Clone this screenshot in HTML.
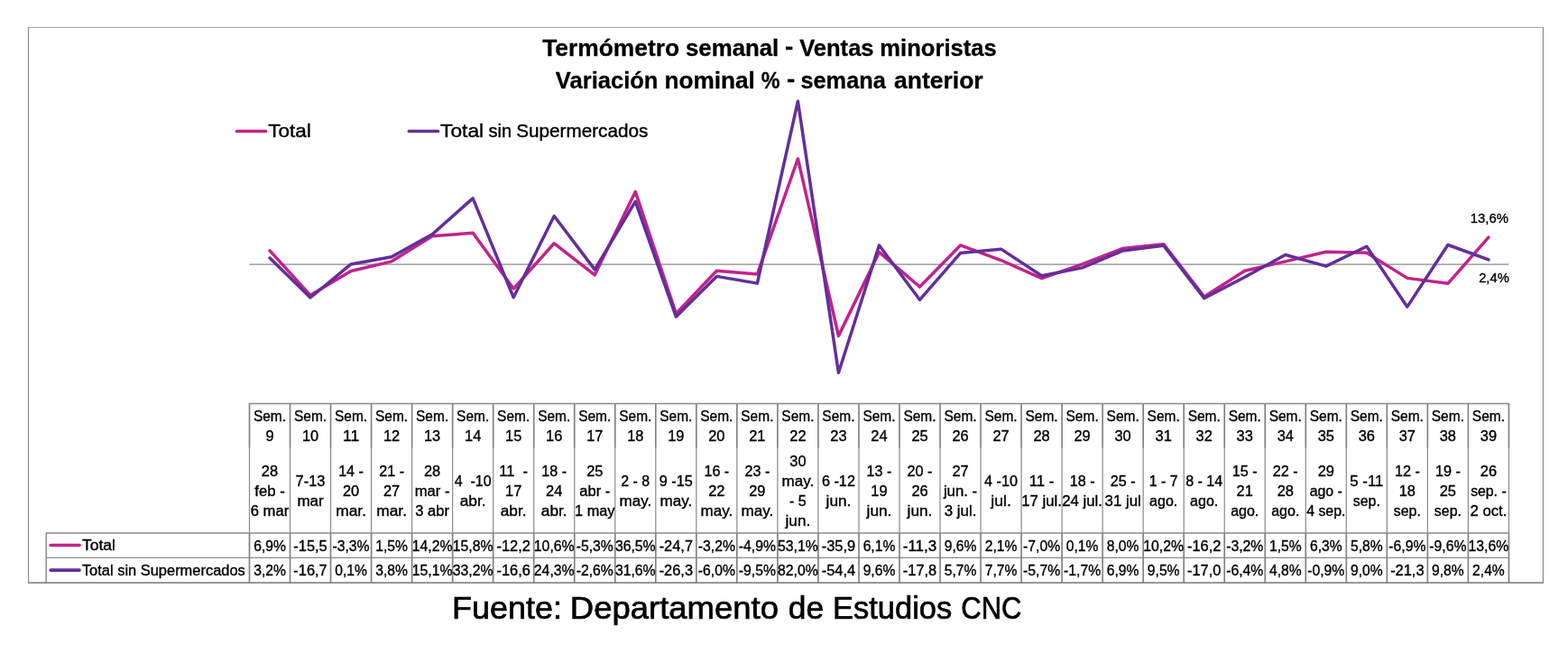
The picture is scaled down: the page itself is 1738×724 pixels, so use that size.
<!DOCTYPE html>
<html lang="es">
<head>
<meta charset="utf-8">
<title>Termómetro semanal - Ventas minoristas</title>
<style>
html,body{margin:0;padding:0;background:#fff;}
body{width:1738px;height:724px;overflow:hidden;font-family:"Liberation Sans",Arial,sans-serif;}
svg{display:block;}
text{white-space:pre;}
</style>
</head>
<body>
<svg width="1738" height="724" viewBox="0 0 1738 724">
<rect x="0" y="0" width="1738" height="724" fill="#fff"/>
<path d="M31.5 30.1V646.1" fill="none" stroke="#858585" stroke-width="1.05"/>
<path d="M31 30.5H1711" fill="none" stroke="#8A8A8A" stroke-width="0.8"/>
<path d="M1710.4 30.1V646.1" fill="none" stroke="#8A8A8A" stroke-width="1.2"/>
<path d="M31 646.1H1711" fill="none" stroke="#8A8A8A" stroke-width="1.7"/>
<line x1="276.50" y1="293.15" x2="1672.43" y2="293.15" stroke="#8A8A8A" stroke-width="1.3"/>
<polyline points="299.01,277.92 344.05,327.36 389.07,300.43 434.11,289.84 479.13,261.81 524.16,258.28 569.19,320.08 614.23,269.76 659.25,304.85 704.29,212.59 749.32,347.66 794.35,300.21 839.38,303.96 884.40,175.96 929.44,372.38 974.47,279.69 1019.50,318.09 1064.53,271.96 1109.56,288.52 1154.59,308.60 1199.62,292.93 1244.64,275.49 1289.68,270.64 1334.70,328.90 1379.74,300.21 1424.77,289.84 1469.80,279.25 1514.83,280.35 1559.86,308.38 1604.88,314.34 1649.91,263.13" fill="none" stroke="#C3228D" stroke-width="3.5" stroke-linejoin="round" stroke-linecap="round"/>
<polyline points="299.01,286.09 344.05,330.01 389.07,292.93 434.11,284.76 479.13,259.82 524.16,219.88 569.19,329.79 614.23,239.52 659.25,298.89 704.29,223.41 749.32,351.19 794.35,306.39 839.38,314.12 884.40,112.18 929.44,413.21 974.47,271.96 1019.50,332.43 1064.53,280.57 1109.56,276.16 1154.59,305.73 1199.62,296.90 1244.64,277.92 1289.68,272.18 1334.70,330.67 1379.74,307.27 1424.77,282.56 1469.80,295.14 1514.83,273.29 1559.86,340.16 1604.88,271.52 1649.91,287.85" fill="none" stroke="#642E9A" stroke-width="3.5" stroke-linejoin="round" stroke-linecap="round"/>
<path d="M276.50 496.80V591.00M321.53 496.80V591.00M366.56 496.80V591.00M411.59 496.80V591.00M456.62 496.80V591.00M501.65 496.80V591.00M546.68 496.80V591.00M591.71 496.80V591.00M636.74 496.80V591.00M681.77 496.80V591.00M726.80 496.80V591.00M771.83 496.80V591.00M816.86 496.80V591.00M861.89 496.80V591.00M906.92 496.80V591.00M951.95 496.80V591.00M996.98 496.80V591.00M1042.01 496.80V591.00M1087.04 496.80V591.00M1132.07 496.80V591.00M1177.10 496.80V591.00M1222.13 496.80V591.00M1267.16 496.80V591.00M1312.19 496.80V591.00M1357.22 496.80V591.00M1402.25 496.80V591.00M1447.28 496.80V591.00M1492.31 496.80V591.00M1537.34 496.80V591.00M1582.37 496.80V591.00M1627.40 496.80V591.00M1672.43 496.80V591.00" fill="none" stroke="#8A8A8A" stroke-width="1.2"/>
<path d="M276.50 446.90V496.80M276.50 591.00V646.10M321.53 446.90V496.80M321.53 591.00V646.10M366.56 446.90V496.80M366.56 591.00V646.10M411.59 446.90V496.80M411.59 591.00V646.10M456.62 446.90V496.80M456.62 591.00V646.10M501.65 446.90V496.80M501.65 591.00V646.10M546.68 446.90V496.80M546.68 591.00V646.10M591.71 446.90V496.80M591.71 591.00V646.10M636.74 446.90V496.80M636.74 591.00V646.10M681.77 446.90V496.80M681.77 591.00V646.10M726.80 446.90V496.80M726.80 591.00V646.10M771.83 446.90V496.80M771.83 591.00V646.10M816.86 446.90V496.80M816.86 591.00V646.10M861.89 446.90V496.80M861.89 591.00V646.10M906.92 446.90V496.80M906.92 591.00V646.10M951.95 446.90V496.80M951.95 591.00V646.10M996.98 446.90V496.80M996.98 591.00V646.10M1042.01 446.90V496.80M1042.01 591.00V646.10M1087.04 446.90V496.80M1087.04 591.00V646.10M1132.07 446.90V496.80M1132.07 591.00V646.10M1177.10 446.90V496.80M1177.10 591.00V646.10M1222.13 446.90V496.80M1222.13 591.00V646.10M1267.16 446.90V496.80M1267.16 591.00V646.10M1312.19 446.90V496.80M1312.19 591.00V646.10M1357.22 446.90V496.80M1357.22 591.00V646.10M1402.25 446.90V496.80M1402.25 591.00V646.10M1447.28 446.90V496.80M1447.28 591.00V646.10M1492.31 446.90V496.80M1492.31 591.00V646.10M1537.34 446.90V496.80M1537.34 591.00V646.10M1582.37 446.90V496.80M1582.37 591.00V646.10M1627.40 446.90V496.80M1627.40 591.00V646.10M1672.43 446.90V496.80M1672.43 591.00V646.10" fill="none" stroke="#808080" stroke-width="1.65"/>
<path d="M275.90 447.50H1673.03M50.5 591.00H1673.03M50.5 618.35H1673.03M51.2 591.00V646.10" fill="none" stroke="#8A8A8A" stroke-width="1.45"/>
<line x1="56.2" y1="604.5" x2="88.0" y2="604.5" stroke="#C3228D" stroke-width="3.7" stroke-linecap="round"/>
<line x1="56.2" y1="632.1" x2="88.0" y2="632.1" stroke="#642E9A" stroke-width="3.7" stroke-linecap="round"/>
<line x1="262.6" y1="145.5" x2="294.4" y2="145.5" stroke="#C3228D" stroke-width="3.7" stroke-linecap="round"/>
<line x1="453.4" y1="145.5" x2="485.4" y2="145.5" stroke="#642E9A" stroke-width="3.7" stroke-linecap="round"/>
<g font-family="'Liberation Sans', Arial, sans-serif" fill="#000" stroke="#000" stroke-width="0.35">
<text x="601.15" y="61.80" font-size="26.00" stroke-width="0.3" font-weight="bold" textLength="151.96" lengthAdjust="spacingAndGlyphs">Termómetro</text>
<text x="760.04" y="61.80" font-size="26.00" stroke-width="0.3" font-weight="bold" textLength="103.23" lengthAdjust="spacingAndGlyphs">semanal</text>
<text x="870.08" y="59.90" font-size="26.00" stroke-width="0.3" font-weight="bold" textLength="9.28" lengthAdjust="spacingAndGlyphs">-</text>
<text x="886.15" y="61.80" font-size="26.00" stroke-width="0.3" font-weight="bold" textLength="82.44" lengthAdjust="spacingAndGlyphs">Ventas</text>
<text x="975.35" y="61.80" font-size="26.00" stroke-width="0.3" font-weight="bold" textLength="129.33" lengthAdjust="spacingAndGlyphs">minoristas</text>
<text x="615.85" y="97.65" font-size="26.00" stroke-width="0.3" font-weight="bold" textLength="113.64" lengthAdjust="spacingAndGlyphs">Variación</text>
<text x="736.41" y="97.65" font-size="26.00" stroke-width="0.3" font-weight="bold" textLength="100.49" lengthAdjust="spacingAndGlyphs">nominal</text>
<text x="843.68" y="97.65" font-size="26.00" stroke-width="0.3" font-weight="bold" textLength="20.80" lengthAdjust="spacingAndGlyphs">%</text>
<text x="871.98" y="95.75" font-size="26.00" stroke-width="0.3" font-weight="bold" textLength="9.28" lengthAdjust="spacingAndGlyphs">-</text>
<text x="887.46" y="97.65" font-size="26.00" stroke-width="0.3" font-weight="bold" textLength="94.33" lengthAdjust="spacingAndGlyphs">semana</text>
<text x="991.04" y="97.65" font-size="26.00" stroke-width="0.3" font-weight="bold" textLength="98.59" lengthAdjust="spacingAndGlyphs">anterior</text>
<text x="297.37" y="151.70" font-size="20.70" stroke-width="0.4" textLength="47.44" lengthAdjust="spacingAndGlyphs">Total</text>
<text x="488.06" y="151.70" font-size="20.70" stroke-width="0.4" textLength="48.07" lengthAdjust="spacingAndGlyphs">Total</text>
<text x="541.52" y="151.70" font-size="20.70" stroke-width="0.4" textLength="25.55" lengthAdjust="spacingAndGlyphs">sin</text>
<text x="572.20" y="151.70" font-size="20.70" stroke-width="0.4" textLength="146.15" lengthAdjust="spacingAndGlyphs">Supermercados</text>
<text x="501.14" y="685.80" font-size="35.00" stroke-width="0.7" textLength="121.96" lengthAdjust="spacingAndGlyphs">Fuente:</text>
<text x="631.80" y="685.80" font-size="35.00" stroke-width="0.7" textLength="231.13" lengthAdjust="spacingAndGlyphs">Departamento</text>
<text x="873.84" y="685.80" font-size="35.00" stroke-width="0.7" textLength="39.34" lengthAdjust="spacingAndGlyphs">de</text>
<text x="923.06" y="685.80" font-size="35.00" stroke-width="0.7" textLength="132.17" lengthAdjust="spacingAndGlyphs">Estudios</text>
<text x="1065.19" y="685.80" font-size="35.00" stroke-width="0.7" textLength="67.33" lengthAdjust="spacingAndGlyphs">CNC</text>
<text x="1672.00" y="247.10" font-size="14.96" text-anchor="end" textLength="42.26" lengthAdjust="spacingAndGlyphs">13,6%</text>
<text x="1672.80" y="313.30" font-size="14.96" text-anchor="end" textLength="33.64" lengthAdjust="spacingAndGlyphs">2,4%</text>
<text x="299.01" y="466.50" font-size="15.84" text-anchor="middle" textLength="36.14" lengthAdjust="spacingAndGlyphs">Sem.</text>
<text x="299.01" y="488.80" font-size="15.84" text-anchor="middle" textLength="9.13" lengthAdjust="spacingAndGlyphs">9</text>
<text x="299.01" y="528.20" font-size="15.84" text-anchor="middle" textLength="18.25" lengthAdjust="spacingAndGlyphs">28</text>
<text x="299.01" y="550.00" font-size="15.84" text-anchor="middle" textLength="33.48" lengthAdjust="spacingAndGlyphs">feb -</text>
<text x="299.01" y="571.80" font-size="15.84" text-anchor="middle" textLength="42.48" lengthAdjust="spacingAndGlyphs">6 mar</text>
<text x="299.01" y="610.60" font-size="15.84" text-anchor="middle" textLength="35.62" lengthAdjust="spacingAndGlyphs">6,9%</text>
<text x="299.01" y="637.80" font-size="15.84" text-anchor="middle" textLength="35.62" lengthAdjust="spacingAndGlyphs">3,2%</text>
<text x="344.05" y="466.50" font-size="15.84" text-anchor="middle" textLength="36.14" lengthAdjust="spacingAndGlyphs">Sem.</text>
<text x="344.05" y="488.80" font-size="15.84" text-anchor="middle" textLength="18.25" lengthAdjust="spacingAndGlyphs">10</text>
<text x="344.05" y="539.10" font-size="15.84" text-anchor="middle" textLength="32.89" lengthAdjust="spacingAndGlyphs">7-13</text>
<text x="344.05" y="560.90" font-size="15.84" text-anchor="middle" textLength="29.29" lengthAdjust="spacingAndGlyphs">mar</text>
<text x="344.05" y="610.60" font-size="15.84" text-anchor="middle" textLength="37.39" lengthAdjust="spacingAndGlyphs">-15,5</text>
<text x="344.05" y="637.80" font-size="15.84" text-anchor="middle" textLength="37.39" lengthAdjust="spacingAndGlyphs">-16,7</text>
<text x="389.07" y="466.50" font-size="15.84" text-anchor="middle" textLength="36.14" lengthAdjust="spacingAndGlyphs">Sem.</text>
<text x="389.07" y="488.80" font-size="15.84" text-anchor="middle" textLength="18.25" lengthAdjust="spacingAndGlyphs">11</text>
<text x="389.07" y="528.20" font-size="15.84" text-anchor="middle" textLength="27.83" lengthAdjust="spacingAndGlyphs">14 -</text>
<text x="389.07" y="550.00" font-size="15.84" text-anchor="middle" textLength="18.25" lengthAdjust="spacingAndGlyphs">20</text>
<text x="389.07" y="571.80" font-size="15.84" text-anchor="middle" textLength="33.82" lengthAdjust="spacingAndGlyphs">mar.</text>
<text x="389.07" y="610.60" font-size="15.84" text-anchor="middle" textLength="41.13" lengthAdjust="spacingAndGlyphs">-3,3%</text>
<text x="389.07" y="637.80" font-size="15.84" text-anchor="middle" textLength="35.62" lengthAdjust="spacingAndGlyphs">0,1%</text>
<text x="434.11" y="466.50" font-size="15.84" text-anchor="middle" textLength="36.14" lengthAdjust="spacingAndGlyphs">Sem.</text>
<text x="434.11" y="488.80" font-size="15.84" text-anchor="middle" textLength="18.25" lengthAdjust="spacingAndGlyphs">12</text>
<text x="434.11" y="528.20" font-size="15.84" text-anchor="middle" textLength="27.83" lengthAdjust="spacingAndGlyphs">21 -</text>
<text x="434.11" y="550.00" font-size="15.84" text-anchor="middle" textLength="18.25" lengthAdjust="spacingAndGlyphs">27</text>
<text x="434.11" y="571.80" font-size="15.84" text-anchor="middle" textLength="33.82" lengthAdjust="spacingAndGlyphs">mar.</text>
<text x="434.11" y="610.60" font-size="15.84" text-anchor="middle" textLength="35.62" lengthAdjust="spacingAndGlyphs">1,5%</text>
<text x="434.11" y="637.80" font-size="15.84" text-anchor="middle" textLength="35.62" lengthAdjust="spacingAndGlyphs">3,8%</text>
<text x="479.13" y="466.50" font-size="15.84" text-anchor="middle" textLength="36.14" lengthAdjust="spacingAndGlyphs">Sem.</text>
<text x="479.13" y="488.80" font-size="15.84" text-anchor="middle" textLength="18.25" lengthAdjust="spacingAndGlyphs">13</text>
<text x="479.13" y="528.20" font-size="15.84" text-anchor="middle" textLength="18.25" lengthAdjust="spacingAndGlyphs">28</text>
<text x="479.13" y="550.00" font-size="15.84" text-anchor="middle" textLength="38.86" lengthAdjust="spacingAndGlyphs">mar -</text>
<text x="479.13" y="571.80" font-size="15.84" text-anchor="middle" textLength="37.55" lengthAdjust="spacingAndGlyphs">3 abr</text>
<text x="479.13" y="610.60" font-size="15.84" text-anchor="middle" textLength="44.75" lengthAdjust="spacingAndGlyphs">14,2%</text>
<text x="479.13" y="637.80" font-size="15.84" text-anchor="middle" textLength="44.75" lengthAdjust="spacingAndGlyphs">15,1%</text>
<text x="524.16" y="466.50" font-size="15.84" text-anchor="middle" textLength="36.14" lengthAdjust="spacingAndGlyphs">Sem.</text>
<text x="524.16" y="488.80" font-size="15.84" text-anchor="middle" textLength="18.25" lengthAdjust="spacingAndGlyphs">14</text>
<text x="524.16" y="539.10" font-size="15.84" text-anchor="middle" textLength="41.02" lengthAdjust="spacingAndGlyphs">4  -10</text>
<text x="524.16" y="560.90" font-size="15.84" text-anchor="middle" textLength="28.89" lengthAdjust="spacingAndGlyphs">abr.</text>
<text x="524.16" y="610.60" font-size="15.84" text-anchor="middle" textLength="44.75" lengthAdjust="spacingAndGlyphs">15,8%</text>
<text x="524.16" y="637.80" font-size="15.84" text-anchor="middle" textLength="44.75" lengthAdjust="spacingAndGlyphs">33,2%</text>
<text x="569.19" y="466.50" font-size="15.84" text-anchor="middle" textLength="36.14" lengthAdjust="spacingAndGlyphs">Sem.</text>
<text x="569.19" y="488.80" font-size="15.84" text-anchor="middle" textLength="18.25" lengthAdjust="spacingAndGlyphs">15</text>
<text x="569.19" y="528.20" font-size="15.84" text-anchor="middle" textLength="31.90" lengthAdjust="spacingAndGlyphs">11  -</text>
<text x="569.19" y="550.00" font-size="15.84" text-anchor="middle" textLength="18.25" lengthAdjust="spacingAndGlyphs">17</text>
<text x="569.19" y="571.80" font-size="15.84" text-anchor="middle" textLength="28.89" lengthAdjust="spacingAndGlyphs">abr.</text>
<text x="569.19" y="610.60" font-size="15.84" text-anchor="middle" textLength="37.39" lengthAdjust="spacingAndGlyphs">-12,2</text>
<text x="569.19" y="637.80" font-size="15.84" text-anchor="middle" textLength="37.39" lengthAdjust="spacingAndGlyphs">-16,6</text>
<text x="614.23" y="466.50" font-size="15.84" text-anchor="middle" textLength="36.14" lengthAdjust="spacingAndGlyphs">Sem.</text>
<text x="614.23" y="488.80" font-size="15.84" text-anchor="middle" textLength="18.25" lengthAdjust="spacingAndGlyphs">16</text>
<text x="614.23" y="528.20" font-size="15.84" text-anchor="middle" textLength="27.83" lengthAdjust="spacingAndGlyphs">18 -</text>
<text x="614.23" y="550.00" font-size="15.84" text-anchor="middle" textLength="18.25" lengthAdjust="spacingAndGlyphs">24</text>
<text x="614.23" y="571.80" font-size="15.84" text-anchor="middle" textLength="28.89" lengthAdjust="spacingAndGlyphs">abr.</text>
<text x="614.23" y="610.60" font-size="15.84" text-anchor="middle" textLength="44.75" lengthAdjust="spacingAndGlyphs">10,6%</text>
<text x="614.23" y="637.80" font-size="15.84" text-anchor="middle" textLength="44.75" lengthAdjust="spacingAndGlyphs">24,3%</text>
<text x="659.25" y="466.50" font-size="15.84" text-anchor="middle" textLength="36.14" lengthAdjust="spacingAndGlyphs">Sem.</text>
<text x="659.25" y="488.80" font-size="15.84" text-anchor="middle" textLength="18.25" lengthAdjust="spacingAndGlyphs">17</text>
<text x="659.25" y="528.20" font-size="15.84" text-anchor="middle" textLength="18.25" lengthAdjust="spacingAndGlyphs">25</text>
<text x="659.25" y="550.00" font-size="15.84" text-anchor="middle" textLength="33.93" lengthAdjust="spacingAndGlyphs">abr -</text>
<text x="659.25" y="571.80" font-size="15.84" text-anchor="middle" textLength="44.35" lengthAdjust="spacingAndGlyphs">1 may</text>
<text x="659.25" y="610.60" font-size="15.84" text-anchor="middle" textLength="41.13" lengthAdjust="spacingAndGlyphs">-5,3%</text>
<text x="659.25" y="637.80" font-size="15.84" text-anchor="middle" textLength="41.13" lengthAdjust="spacingAndGlyphs">-2,6%</text>
<text x="704.29" y="466.50" font-size="15.84" text-anchor="middle" textLength="36.14" lengthAdjust="spacingAndGlyphs">Sem.</text>
<text x="704.29" y="488.80" font-size="15.84" text-anchor="middle" textLength="18.25" lengthAdjust="spacingAndGlyphs">18</text>
<text x="704.29" y="539.10" font-size="15.84" text-anchor="middle" textLength="31.90" lengthAdjust="spacingAndGlyphs">2 - 8</text>
<text x="704.29" y="560.90" font-size="15.84" text-anchor="middle" textLength="35.69" lengthAdjust="spacingAndGlyphs">may.</text>
<text x="704.29" y="610.60" font-size="15.84" text-anchor="middle" textLength="44.75" lengthAdjust="spacingAndGlyphs">36,5%</text>
<text x="704.29" y="637.80" font-size="15.84" text-anchor="middle" textLength="44.75" lengthAdjust="spacingAndGlyphs">31,6%</text>
<text x="749.32" y="466.50" font-size="15.84" text-anchor="middle" textLength="36.14" lengthAdjust="spacingAndGlyphs">Sem.</text>
<text x="749.32" y="488.80" font-size="15.84" text-anchor="middle" textLength="18.25" lengthAdjust="spacingAndGlyphs">19</text>
<text x="749.32" y="539.10" font-size="15.84" text-anchor="middle" textLength="36.95" lengthAdjust="spacingAndGlyphs">9 -15</text>
<text x="749.32" y="560.90" font-size="15.84" text-anchor="middle" textLength="35.69" lengthAdjust="spacingAndGlyphs">may.</text>
<text x="749.32" y="610.60" font-size="15.84" text-anchor="middle" textLength="37.39" lengthAdjust="spacingAndGlyphs">-24,7</text>
<text x="749.32" y="637.80" font-size="15.84" text-anchor="middle" textLength="37.39" lengthAdjust="spacingAndGlyphs">-26,3</text>
<text x="794.35" y="466.50" font-size="15.84" text-anchor="middle" textLength="36.14" lengthAdjust="spacingAndGlyphs">Sem.</text>
<text x="794.35" y="488.80" font-size="15.84" text-anchor="middle" textLength="18.25" lengthAdjust="spacingAndGlyphs">20</text>
<text x="794.35" y="528.20" font-size="15.84" text-anchor="middle" textLength="27.83" lengthAdjust="spacingAndGlyphs">16 -</text>
<text x="794.35" y="550.00" font-size="15.84" text-anchor="middle" textLength="18.25" lengthAdjust="spacingAndGlyphs">22</text>
<text x="794.35" y="571.80" font-size="15.84" text-anchor="middle" textLength="35.69" lengthAdjust="spacingAndGlyphs">may.</text>
<text x="794.35" y="610.60" font-size="15.84" text-anchor="middle" textLength="41.13" lengthAdjust="spacingAndGlyphs">-3,2%</text>
<text x="794.35" y="637.80" font-size="15.84" text-anchor="middle" textLength="41.13" lengthAdjust="spacingAndGlyphs">-6,0%</text>
<text x="839.38" y="466.50" font-size="15.84" text-anchor="middle" textLength="36.14" lengthAdjust="spacingAndGlyphs">Sem.</text>
<text x="839.38" y="488.80" font-size="15.84" text-anchor="middle" textLength="18.25" lengthAdjust="spacingAndGlyphs">21</text>
<text x="839.38" y="528.20" font-size="15.84" text-anchor="middle" textLength="27.83" lengthAdjust="spacingAndGlyphs">23 -</text>
<text x="839.38" y="550.00" font-size="15.84" text-anchor="middle" textLength="18.25" lengthAdjust="spacingAndGlyphs">29</text>
<text x="839.38" y="571.80" font-size="15.84" text-anchor="middle" textLength="35.69" lengthAdjust="spacingAndGlyphs">may.</text>
<text x="839.38" y="610.60" font-size="15.84" text-anchor="middle" textLength="41.13" lengthAdjust="spacingAndGlyphs">-4,9%</text>
<text x="839.38" y="637.80" font-size="15.84" text-anchor="middle" textLength="41.13" lengthAdjust="spacingAndGlyphs">-9,5%</text>
<text x="884.40" y="466.50" font-size="15.84" text-anchor="middle" textLength="36.14" lengthAdjust="spacingAndGlyphs">Sem.</text>
<text x="884.40" y="488.80" font-size="15.84" text-anchor="middle" textLength="18.25" lengthAdjust="spacingAndGlyphs">22</text>
<text x="884.40" y="517.30" font-size="15.84" text-anchor="middle" textLength="18.25" lengthAdjust="spacingAndGlyphs">30</text>
<text x="884.40" y="539.10" font-size="15.84" text-anchor="middle" textLength="35.69" lengthAdjust="spacingAndGlyphs">may.</text>
<text x="884.40" y="560.90" font-size="15.84" text-anchor="middle" textLength="18.70" lengthAdjust="spacingAndGlyphs">- 5</text>
<text x="884.40" y="582.70" font-size="15.84" text-anchor="middle" textLength="27.74" lengthAdjust="spacingAndGlyphs">jun.</text>
<text x="884.40" y="610.60" font-size="15.84" text-anchor="middle" textLength="44.75" lengthAdjust="spacingAndGlyphs">53,1%</text>
<text x="884.40" y="637.80" font-size="15.84" text-anchor="middle" textLength="44.75" lengthAdjust="spacingAndGlyphs">82,0%</text>
<text x="929.44" y="466.50" font-size="15.84" text-anchor="middle" textLength="36.14" lengthAdjust="spacingAndGlyphs">Sem.</text>
<text x="929.44" y="488.80" font-size="15.84" text-anchor="middle" textLength="18.25" lengthAdjust="spacingAndGlyphs">23</text>
<text x="929.44" y="539.10" font-size="15.84" text-anchor="middle" textLength="36.95" lengthAdjust="spacingAndGlyphs">6 -12</text>
<text x="929.44" y="560.90" font-size="15.84" text-anchor="middle" textLength="27.74" lengthAdjust="spacingAndGlyphs">jun.</text>
<text x="929.44" y="610.60" font-size="15.84" text-anchor="middle" textLength="37.39" lengthAdjust="spacingAndGlyphs">-35,9</text>
<text x="929.44" y="637.80" font-size="15.84" text-anchor="middle" textLength="37.39" lengthAdjust="spacingAndGlyphs">-54,4</text>
<text x="974.47" y="466.50" font-size="15.84" text-anchor="middle" textLength="36.14" lengthAdjust="spacingAndGlyphs">Sem.</text>
<text x="974.47" y="488.80" font-size="15.84" text-anchor="middle" textLength="18.25" lengthAdjust="spacingAndGlyphs">24</text>
<text x="974.47" y="528.20" font-size="15.84" text-anchor="middle" textLength="27.83" lengthAdjust="spacingAndGlyphs">13 -</text>
<text x="974.47" y="550.00" font-size="15.84" text-anchor="middle" textLength="18.25" lengthAdjust="spacingAndGlyphs">19</text>
<text x="974.47" y="571.80" font-size="15.84" text-anchor="middle" textLength="27.74" lengthAdjust="spacingAndGlyphs">jun.</text>
<text x="974.47" y="610.60" font-size="15.84" text-anchor="middle" textLength="35.62" lengthAdjust="spacingAndGlyphs">6,1%</text>
<text x="974.47" y="637.80" font-size="15.84" text-anchor="middle" textLength="35.62" lengthAdjust="spacingAndGlyphs">9,6%</text>
<text x="1019.50" y="466.50" font-size="15.84" text-anchor="middle" textLength="36.14" lengthAdjust="spacingAndGlyphs">Sem.</text>
<text x="1019.50" y="488.80" font-size="15.84" text-anchor="middle" textLength="18.25" lengthAdjust="spacingAndGlyphs">25</text>
<text x="1019.50" y="528.20" font-size="15.84" text-anchor="middle" textLength="27.83" lengthAdjust="spacingAndGlyphs">20 -</text>
<text x="1019.50" y="550.00" font-size="15.84" text-anchor="middle" textLength="18.25" lengthAdjust="spacingAndGlyphs">26</text>
<text x="1019.50" y="571.80" font-size="15.84" text-anchor="middle" textLength="27.74" lengthAdjust="spacingAndGlyphs">jun.</text>
<text x="1019.50" y="610.60" font-size="15.84" text-anchor="middle" textLength="37.39" lengthAdjust="spacingAndGlyphs">-11,3</text>
<text x="1019.50" y="637.80" font-size="15.84" text-anchor="middle" textLength="37.39" lengthAdjust="spacingAndGlyphs">-17,8</text>
<text x="1064.53" y="466.50" font-size="15.84" text-anchor="middle" textLength="36.14" lengthAdjust="spacingAndGlyphs">Sem.</text>
<text x="1064.53" y="488.80" font-size="15.84" text-anchor="middle" textLength="18.25" lengthAdjust="spacingAndGlyphs">26</text>
<text x="1064.53" y="528.20" font-size="15.84" text-anchor="middle" textLength="18.25" lengthAdjust="spacingAndGlyphs">27</text>
<text x="1064.53" y="550.00" font-size="15.84" text-anchor="middle" textLength="37.31" lengthAdjust="spacingAndGlyphs">jun. -</text>
<text x="1064.53" y="571.80" font-size="15.84" text-anchor="middle" textLength="35.60" lengthAdjust="spacingAndGlyphs">3 jul.</text>
<text x="1064.53" y="610.60" font-size="15.84" text-anchor="middle" textLength="35.62" lengthAdjust="spacingAndGlyphs">9,6%</text>
<text x="1064.53" y="637.80" font-size="15.84" text-anchor="middle" textLength="35.62" lengthAdjust="spacingAndGlyphs">5,7%</text>
<text x="1109.56" y="466.50" font-size="15.84" text-anchor="middle" textLength="36.14" lengthAdjust="spacingAndGlyphs">Sem.</text>
<text x="1109.56" y="488.80" font-size="15.84" text-anchor="middle" textLength="18.25" lengthAdjust="spacingAndGlyphs">27</text>
<text x="1109.56" y="539.10" font-size="15.84" text-anchor="middle" textLength="36.95" lengthAdjust="spacingAndGlyphs">4 -10</text>
<text x="1109.56" y="560.90" font-size="15.84" text-anchor="middle" textLength="22.41" lengthAdjust="spacingAndGlyphs">jul.</text>
<text x="1109.56" y="610.60" font-size="15.84" text-anchor="middle" textLength="35.62" lengthAdjust="spacingAndGlyphs">2,1%</text>
<text x="1109.56" y="637.80" font-size="15.84" text-anchor="middle" textLength="35.62" lengthAdjust="spacingAndGlyphs">7,7%</text>
<text x="1154.59" y="466.50" font-size="15.84" text-anchor="middle" textLength="36.14" lengthAdjust="spacingAndGlyphs">Sem.</text>
<text x="1154.59" y="488.80" font-size="15.84" text-anchor="middle" textLength="18.25" lengthAdjust="spacingAndGlyphs">28</text>
<text x="1154.59" y="539.10" font-size="15.84" text-anchor="middle" textLength="27.83" lengthAdjust="spacingAndGlyphs">11 -</text>
<text x="1154.59" y="560.90" font-size="15.84" text-anchor="middle" textLength="44.73" lengthAdjust="spacingAndGlyphs">17 jul.</text>
<text x="1154.59" y="610.60" font-size="15.84" text-anchor="middle" textLength="41.13" lengthAdjust="spacingAndGlyphs">-7,0%</text>
<text x="1154.59" y="637.80" font-size="15.84" text-anchor="middle" textLength="41.13" lengthAdjust="spacingAndGlyphs">-5,7%</text>
<text x="1199.62" y="466.50" font-size="15.84" text-anchor="middle" textLength="36.14" lengthAdjust="spacingAndGlyphs">Sem.</text>
<text x="1199.62" y="488.80" font-size="15.84" text-anchor="middle" textLength="18.25" lengthAdjust="spacingAndGlyphs">29</text>
<text x="1199.62" y="539.10" font-size="15.84" text-anchor="middle" textLength="27.83" lengthAdjust="spacingAndGlyphs">18 -</text>
<text x="1199.62" y="560.90" font-size="15.84" text-anchor="middle" textLength="44.73" lengthAdjust="spacingAndGlyphs">24 jul.</text>
<text x="1199.62" y="610.60" font-size="15.84" text-anchor="middle" textLength="35.62" lengthAdjust="spacingAndGlyphs">0,1%</text>
<text x="1199.62" y="637.80" font-size="15.84" text-anchor="middle" textLength="41.13" lengthAdjust="spacingAndGlyphs">-1,7%</text>
<text x="1244.64" y="466.50" font-size="15.84" text-anchor="middle" textLength="36.14" lengthAdjust="spacingAndGlyphs">Sem.</text>
<text x="1244.64" y="488.80" font-size="15.84" text-anchor="middle" textLength="18.25" lengthAdjust="spacingAndGlyphs">30</text>
<text x="1244.64" y="539.10" font-size="15.84" text-anchor="middle" textLength="27.83" lengthAdjust="spacingAndGlyphs">25 -</text>
<text x="1244.64" y="560.90" font-size="15.84" text-anchor="middle" textLength="40.19" lengthAdjust="spacingAndGlyphs">31 jul</text>
<text x="1244.64" y="610.60" font-size="15.84" text-anchor="middle" textLength="35.62" lengthAdjust="spacingAndGlyphs">8,0%</text>
<text x="1244.64" y="637.80" font-size="15.84" text-anchor="middle" textLength="35.62" lengthAdjust="spacingAndGlyphs">6,9%</text>
<text x="1289.68" y="466.50" font-size="15.84" text-anchor="middle" textLength="36.14" lengthAdjust="spacingAndGlyphs">Sem.</text>
<text x="1289.68" y="488.80" font-size="15.84" text-anchor="middle" textLength="18.25" lengthAdjust="spacingAndGlyphs">31</text>
<text x="1289.68" y="539.10" font-size="15.84" text-anchor="middle" textLength="31.90" lengthAdjust="spacingAndGlyphs">1 - 7</text>
<text x="1289.68" y="560.90" font-size="15.84" text-anchor="middle" textLength="31.12" lengthAdjust="spacingAndGlyphs">ago.</text>
<text x="1289.68" y="610.60" font-size="15.84" text-anchor="middle" textLength="44.75" lengthAdjust="spacingAndGlyphs">10,2%</text>
<text x="1289.68" y="637.80" font-size="15.84" text-anchor="middle" textLength="35.62" lengthAdjust="spacingAndGlyphs">9,5%</text>
<text x="1334.70" y="466.50" font-size="15.84" text-anchor="middle" textLength="36.14" lengthAdjust="spacingAndGlyphs">Sem.</text>
<text x="1334.70" y="488.80" font-size="15.84" text-anchor="middle" textLength="18.25" lengthAdjust="spacingAndGlyphs">32</text>
<text x="1334.70" y="539.10" font-size="15.84" text-anchor="middle" textLength="41.02" lengthAdjust="spacingAndGlyphs">8 - 14</text>
<text x="1334.70" y="560.90" font-size="15.84" text-anchor="middle" textLength="31.12" lengthAdjust="spacingAndGlyphs">ago.</text>
<text x="1334.70" y="610.60" font-size="15.84" text-anchor="middle" textLength="37.39" lengthAdjust="spacingAndGlyphs">-16,2</text>
<text x="1334.70" y="637.80" font-size="15.84" text-anchor="middle" textLength="37.39" lengthAdjust="spacingAndGlyphs">-17,0</text>
<text x="1379.74" y="466.50" font-size="15.84" text-anchor="middle" textLength="36.14" lengthAdjust="spacingAndGlyphs">Sem.</text>
<text x="1379.74" y="488.80" font-size="15.84" text-anchor="middle" textLength="18.25" lengthAdjust="spacingAndGlyphs">33</text>
<text x="1379.74" y="528.20" font-size="15.84" text-anchor="middle" textLength="27.83" lengthAdjust="spacingAndGlyphs">15 -</text>
<text x="1379.74" y="550.00" font-size="15.84" text-anchor="middle" textLength="18.25" lengthAdjust="spacingAndGlyphs">21</text>
<text x="1379.74" y="571.80" font-size="15.84" text-anchor="middle" textLength="31.12" lengthAdjust="spacingAndGlyphs">ago.</text>
<text x="1379.74" y="610.60" font-size="15.84" text-anchor="middle" textLength="41.13" lengthAdjust="spacingAndGlyphs">-3,2%</text>
<text x="1379.74" y="637.80" font-size="15.84" text-anchor="middle" textLength="41.13" lengthAdjust="spacingAndGlyphs">-6,4%</text>
<text x="1424.77" y="466.50" font-size="15.84" text-anchor="middle" textLength="36.14" lengthAdjust="spacingAndGlyphs">Sem.</text>
<text x="1424.77" y="488.80" font-size="15.84" text-anchor="middle" textLength="18.25" lengthAdjust="spacingAndGlyphs">34</text>
<text x="1424.77" y="528.20" font-size="15.84" text-anchor="middle" textLength="27.83" lengthAdjust="spacingAndGlyphs">22 -</text>
<text x="1424.77" y="550.00" font-size="15.84" text-anchor="middle" textLength="18.25" lengthAdjust="spacingAndGlyphs">28</text>
<text x="1424.77" y="571.80" font-size="15.84" text-anchor="middle" textLength="31.12" lengthAdjust="spacingAndGlyphs">ago.</text>
<text x="1424.77" y="610.60" font-size="15.84" text-anchor="middle" textLength="35.62" lengthAdjust="spacingAndGlyphs">1,5%</text>
<text x="1424.77" y="637.80" font-size="15.84" text-anchor="middle" textLength="35.62" lengthAdjust="spacingAndGlyphs">4,8%</text>
<text x="1469.80" y="466.50" font-size="15.84" text-anchor="middle" textLength="36.14" lengthAdjust="spacingAndGlyphs">Sem.</text>
<text x="1469.80" y="488.80" font-size="15.84" text-anchor="middle" textLength="18.25" lengthAdjust="spacingAndGlyphs">35</text>
<text x="1469.80" y="528.20" font-size="15.84" text-anchor="middle" textLength="18.25" lengthAdjust="spacingAndGlyphs">29</text>
<text x="1469.80" y="550.00" font-size="15.84" text-anchor="middle" textLength="36.16" lengthAdjust="spacingAndGlyphs">ago -</text>
<text x="1469.80" y="571.80" font-size="15.84" text-anchor="middle" textLength="43.18" lengthAdjust="spacingAndGlyphs">4 sep.</text>
<text x="1469.80" y="610.60" font-size="15.84" text-anchor="middle" textLength="35.62" lengthAdjust="spacingAndGlyphs">6,3%</text>
<text x="1469.80" y="637.80" font-size="15.84" text-anchor="middle" textLength="41.13" lengthAdjust="spacingAndGlyphs">-0,9%</text>
<text x="1514.83" y="466.50" font-size="15.84" text-anchor="middle" textLength="36.14" lengthAdjust="spacingAndGlyphs">Sem.</text>
<text x="1514.83" y="488.80" font-size="15.84" text-anchor="middle" textLength="18.25" lengthAdjust="spacingAndGlyphs">36</text>
<text x="1514.83" y="539.10" font-size="15.84" text-anchor="middle" textLength="36.95" lengthAdjust="spacingAndGlyphs">5 -11</text>
<text x="1514.83" y="560.90" font-size="15.84" text-anchor="middle" textLength="29.99" lengthAdjust="spacingAndGlyphs">sep.</text>
<text x="1514.83" y="610.60" font-size="15.84" text-anchor="middle" textLength="35.62" lengthAdjust="spacingAndGlyphs">5,8%</text>
<text x="1514.83" y="637.80" font-size="15.84" text-anchor="middle" textLength="35.62" lengthAdjust="spacingAndGlyphs">9,0%</text>
<text x="1559.86" y="466.50" font-size="15.84" text-anchor="middle" textLength="36.14" lengthAdjust="spacingAndGlyphs">Sem.</text>
<text x="1559.86" y="488.80" font-size="15.84" text-anchor="middle" textLength="18.25" lengthAdjust="spacingAndGlyphs">37</text>
<text x="1559.86" y="528.20" font-size="15.84" text-anchor="middle" textLength="27.83" lengthAdjust="spacingAndGlyphs">12 -</text>
<text x="1559.86" y="550.00" font-size="15.84" text-anchor="middle" textLength="18.25" lengthAdjust="spacingAndGlyphs">18</text>
<text x="1559.86" y="571.80" font-size="15.84" text-anchor="middle" textLength="29.99" lengthAdjust="spacingAndGlyphs">sep.</text>
<text x="1559.86" y="610.60" font-size="15.84" text-anchor="middle" textLength="41.13" lengthAdjust="spacingAndGlyphs">-6,9%</text>
<text x="1559.86" y="637.80" font-size="15.84" text-anchor="middle" textLength="37.39" lengthAdjust="spacingAndGlyphs">-21,3</text>
<text x="1604.88" y="466.50" font-size="15.84" text-anchor="middle" textLength="36.14" lengthAdjust="spacingAndGlyphs">Sem.</text>
<text x="1604.88" y="488.80" font-size="15.84" text-anchor="middle" textLength="18.25" lengthAdjust="spacingAndGlyphs">38</text>
<text x="1604.88" y="528.20" font-size="15.84" text-anchor="middle" textLength="27.83" lengthAdjust="spacingAndGlyphs">19 -</text>
<text x="1604.88" y="550.00" font-size="15.84" text-anchor="middle" textLength="18.25" lengthAdjust="spacingAndGlyphs">25</text>
<text x="1604.88" y="571.80" font-size="15.84" text-anchor="middle" textLength="29.99" lengthAdjust="spacingAndGlyphs">sep.</text>
<text x="1604.88" y="610.60" font-size="15.84" text-anchor="middle" textLength="41.13" lengthAdjust="spacingAndGlyphs">-9,6%</text>
<text x="1604.88" y="637.80" font-size="15.84" text-anchor="middle" textLength="35.62" lengthAdjust="spacingAndGlyphs">9,8%</text>
<text x="1649.91" y="466.50" font-size="15.84" text-anchor="middle" textLength="36.14" lengthAdjust="spacingAndGlyphs">Sem.</text>
<text x="1649.91" y="488.80" font-size="15.84" text-anchor="middle" textLength="18.25" lengthAdjust="spacingAndGlyphs">39</text>
<text x="1649.91" y="528.20" font-size="15.84" text-anchor="middle" textLength="18.25" lengthAdjust="spacingAndGlyphs">26</text>
<text x="1649.91" y="550.00" font-size="15.84" text-anchor="middle" textLength="39.56" lengthAdjust="spacingAndGlyphs">sep. -</text>
<text x="1649.91" y="571.80" font-size="15.84" text-anchor="middle" textLength="40.86" lengthAdjust="spacingAndGlyphs">2 oct.</text>
<text x="1649.91" y="610.60" font-size="15.84" text-anchor="middle" textLength="44.75" lengthAdjust="spacingAndGlyphs">13,6%</text>
<text x="1649.91" y="637.80" font-size="15.84" text-anchor="middle" textLength="35.62" lengthAdjust="spacingAndGlyphs">2,4%</text>
<text x="90.90" y="610.00" font-size="15.84" textLength="37.03" lengthAdjust="spacingAndGlyphs">Total</text>
<text x="90.90" y="637.50" font-size="15.84" textLength="180.92" lengthAdjust="spacingAndGlyphs">Total sin Supermercados</text>
</g>
</svg>
</body>
</html>
